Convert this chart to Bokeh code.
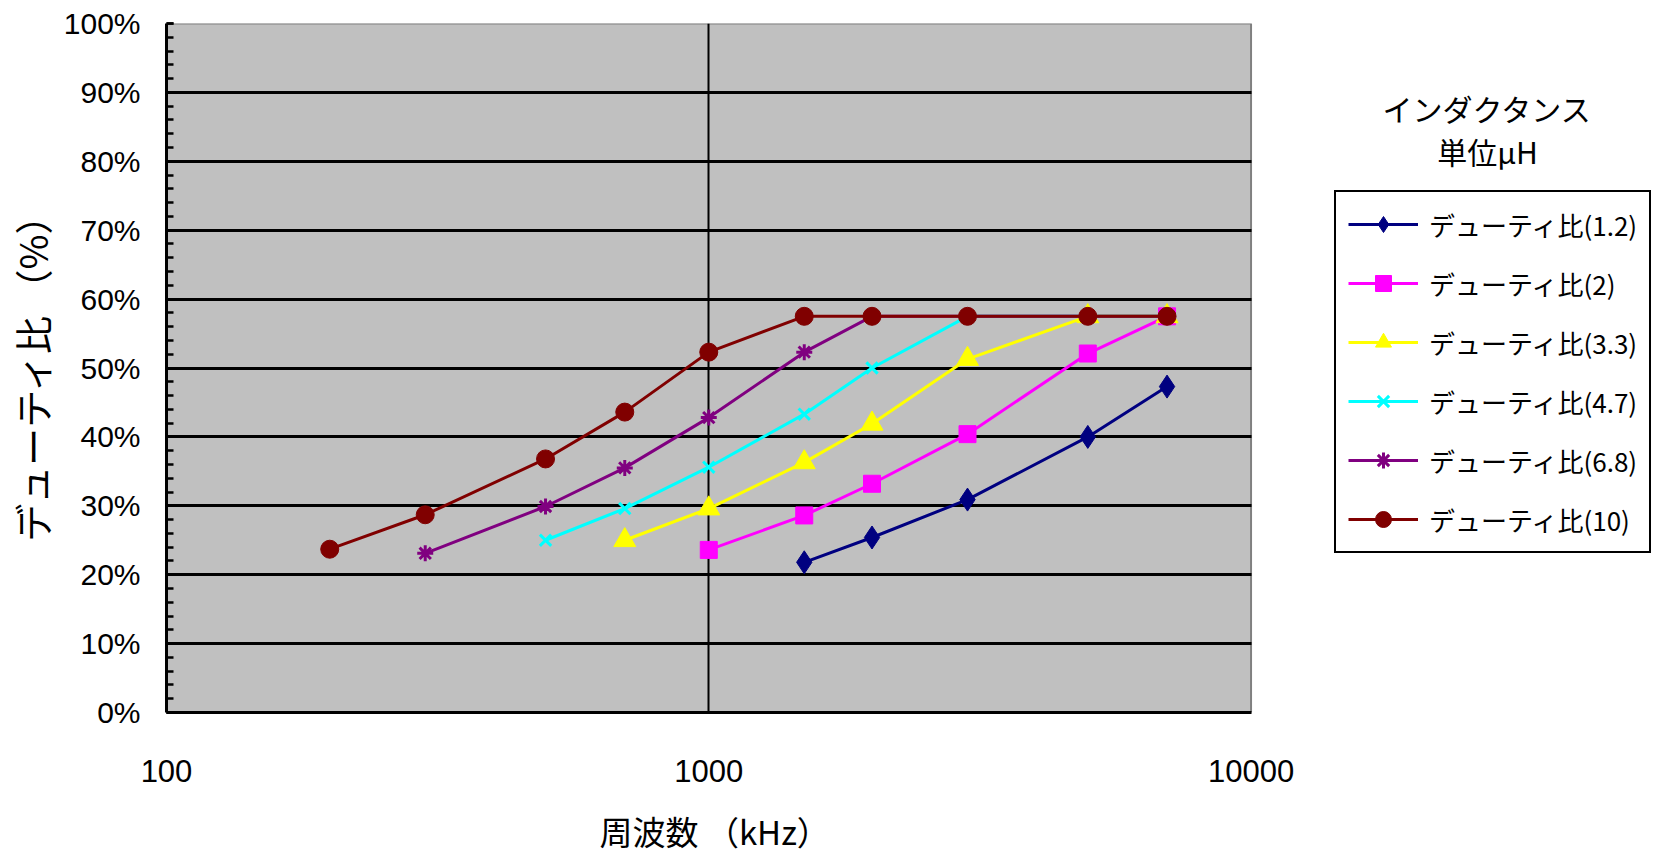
from bokeh.plotting import figure
from bokeh.models import (Range1d, FixedTicker, SingleIntervalTicker, NumeralTickFormatter,
                          Legend, LegendItem, Label, BoxAnnotation, Grid, Title)
from bokeh.embed import file_html
from bokeh.resources import INLINE

# Duty ratio (%) versus switching frequency (kHz) for each inductance (uH)
labels = ["デューティ比(1.2)", "デューティ比(2)", "デューティ比(3.3)",
          "デューティ比(4.7)", "デューティ比(6.8)", "デューティ比(10)"]

freq_12 = [1500, 2000, 3000, 5000, 7000]
duty_12 = [21.8, 25.4, 30.9, 40.0, 47.3]

freq_2 = [1000, 1500, 2000, 3000, 5000, 7000]
duty_2 = [23.6, 28.6, 33.2, 40.4, 52.1, 57.5]

freq_33 = [700, 1000, 1500, 2000, 3000, 5000, 7000]
duty_33 = [25.0, 29.6, 36.3, 41.9, 51.3, 57.5, 57.5]

freq_47 = [500, 700, 1000, 1500, 2000, 3000, 5000, 7000]
duty_47 = [25.0, 29.6, 35.6, 43.3, 50.0, 57.5, 57.5, 57.5]

freq_68 = [300, 500, 700, 1000, 1500, 2000, 3000, 5000, 7000]
duty_68 = [23.1, 29.9, 35.5, 42.8, 52.3, 57.5, 57.5, 57.5, 57.5]

freq_10 = [200, 300, 500, 700, 1000, 1500, 2000, 3000, 5000, 7000]
duty_10 = [23.7, 28.7, 36.8, 43.6, 52.3, 57.5, 57.5, 57.5, 57.5, 57.5]

x_ticks = [100, 1000, 10000]
x_min, x_max = 100, 10000

series = [
    (freq_12, duty_12, "#000080", "diamond", 23),
    (freq_2, duty_2, "#FF00FF", "square", 17),
    (freq_33, duty_33, "#FFFF00", "triangle", 22),
    (freq_47, duty_47, "#00FFFF", "x", 16),
    (freq_68, duty_68, "#800080", "asterisk", 16),
    (freq_10, duty_10, "#800000", "circle", 18),
]

JP = "Noto Sans CJK JP"
NUM = "Liberation Sans"

# page geometry: the plotting frame runs to the right edge so the legend
# block can sit inside it; the gray chart area stops at x_max
W, H = 1656, 856
left_px, top_px, bottom_px = 164, 23, 144
decade_px = 543.0
frame_w = W - left_px
x_end = 10 ** (2 + frame_w / decade_px)

p = figure(width=W, height=H, x_axis_type="log",
           x_range=Range1d(x_min, x_end), y_range=Range1d(0, 1),
           output_backend="svg", toolbar_location=None,
           min_border_left=left_px, min_border_right=0,
           min_border_top=top_px, min_border_bottom=bottom_px)

p.background_fill_color = "white"
p.border_fill_color = "white"
p.outline_line_color = None

area = BoxAnnotation(left=x_min, right=x_max, bottom=0, top=1,
                     fill_color="#C0C0C0", fill_alpha=1,
                     line_color="#808080", line_width=2, line_alpha=1, level="image")
p.add_layout(area)

# grid
p.ygrid.ticker = FixedTicker(ticks=[0.1, 0.2, 0.3, 0.4, 0.5, 0.6, 0.7, 0.8, 0.9])
p.ygrid.grid_line_color = "black"
p.ygrid.grid_line_width = 3
p.xgrid.ticker = FixedTicker(ticks=[1000])
p.xgrid.grid_line_color = "black"
p.xgrid.grid_line_width = 2
if "cross_bounds" in Grid.properties():
    p.ygrid.cross_bounds = (x_min, x_max)

# y axis
p.yaxis.ticker = SingleIntervalTicker(interval=0.1, num_minor_ticks=5)
p.yaxis.formatter = NumeralTickFormatter(format="0%")
p.yaxis.axis_line_color = "black"
p.yaxis.axis_line_width = 3
p.yaxis.major_tick_in = 7
p.yaxis.major_tick_out = 0
p.yaxis.major_tick_line_width = 2.5
p.yaxis.minor_tick_in = 7
p.yaxis.minor_tick_out = 0
p.yaxis.minor_tick_line_width = 2.5
p.yaxis.major_label_text_font = NUM
p.yaxis.major_label_text_font_size = "30px"
p.yaxis.major_label_text_color = "black"
p.yaxis.major_label_standoff = 26
p.yaxis.axis_label = "デューティ比 （%）"
p.yaxis.axis_label_text_font = JP
p.yaxis.axis_label_text_font_size = "38px"
p.yaxis.axis_label_text_font_style = "normal"
p.yaxis.axis_label_text_color = "black"
p.yaxis.axis_label_standoff = 2

# x axis (a blank axis label keeps a gap above the title line)
p.xaxis.ticker = FixedTicker(ticks=x_ticks)
p.xaxis.bounds = (x_min, x_max)
p.xaxis.major_label_overrides = {t: str(t) for t in x_ticks}
p.xaxis.axis_line_color = "black"
p.xaxis.axis_line_width = 3
p.xaxis.major_tick_line_color = None
p.xaxis.minor_tick_line_color = None
p.xaxis.major_label_text_font = NUM
p.xaxis.major_label_text_font_size = "31px"
p.xaxis.major_label_text_color = "black"
p.xaxis.major_label_standoff = 41
p.xaxis.axis_label = " "
p.xaxis.axis_label_text_font_size = "16px"
p.xaxis.axis_label_standoff = 0

# x axis title, placed under the gray chart area
x_title = Title(text="周波数 （kHz）", align="left", offset=433,
                text_font=JP, text_font_size="33px", text_font_style="normal",
                text_color="black", standoff=0)
p.add_layout(x_title, "below")

items = []
for (fx, dy, color, marker, size), name in zip(series, labels):
    yv = [v / 100 for v in dy]
    ln = p.line(fx, yv, line_color=color, line_width=3)
    if marker in ("x", "asterisk"):
        sc = p.scatter(fx, yv, marker=marker, size=size, line_color=color, line_width=3,
                       fill_color=color)
    else:
        sc = p.scatter(fx, yv, marker=marker, size=size, line_color=color, line_width=1,
                       fill_color=color)
    items.append(LegendItem(label=name, renderers=[ln, sc]))

legend = Legend(items=items, location=(1168, 159))
legend.border_line_color = "black"
legend.border_line_alpha = 1
legend.border_line_width = 2.5
legend.background_fill_color = "white"
legend.background_fill_alpha = 1
legend.label_text_font = JP
legend.label_text_font_size = "26px"
legend.label_text_color = "black"
legend.glyph_width = 70
legend.glyph_height = 40
legend.label_height = 40
legend.label_standoff = 11
legend.padding = 12
legend.spacing = 19
legend.margin = 0
p.add_layout(legend, "center")

# legend heading above the box
p.add_layout(Label(x=1321, y=605, x_units="screen", y_units="screen", text="インダクタンス",
                   text_font=JP, text_font_size="30px", text_align="center",
                   text_baseline="middle", text_color="black"))
p.add_layout(Label(x=1321, y=562, x_units="screen", y_units="screen", text="単位μH",
                   text_font=JP, text_font_size="30px", text_align="center",
                   text_baseline="middle", text_color="black"))

open("out.html", "w").write(file_html(p, INLINE))
